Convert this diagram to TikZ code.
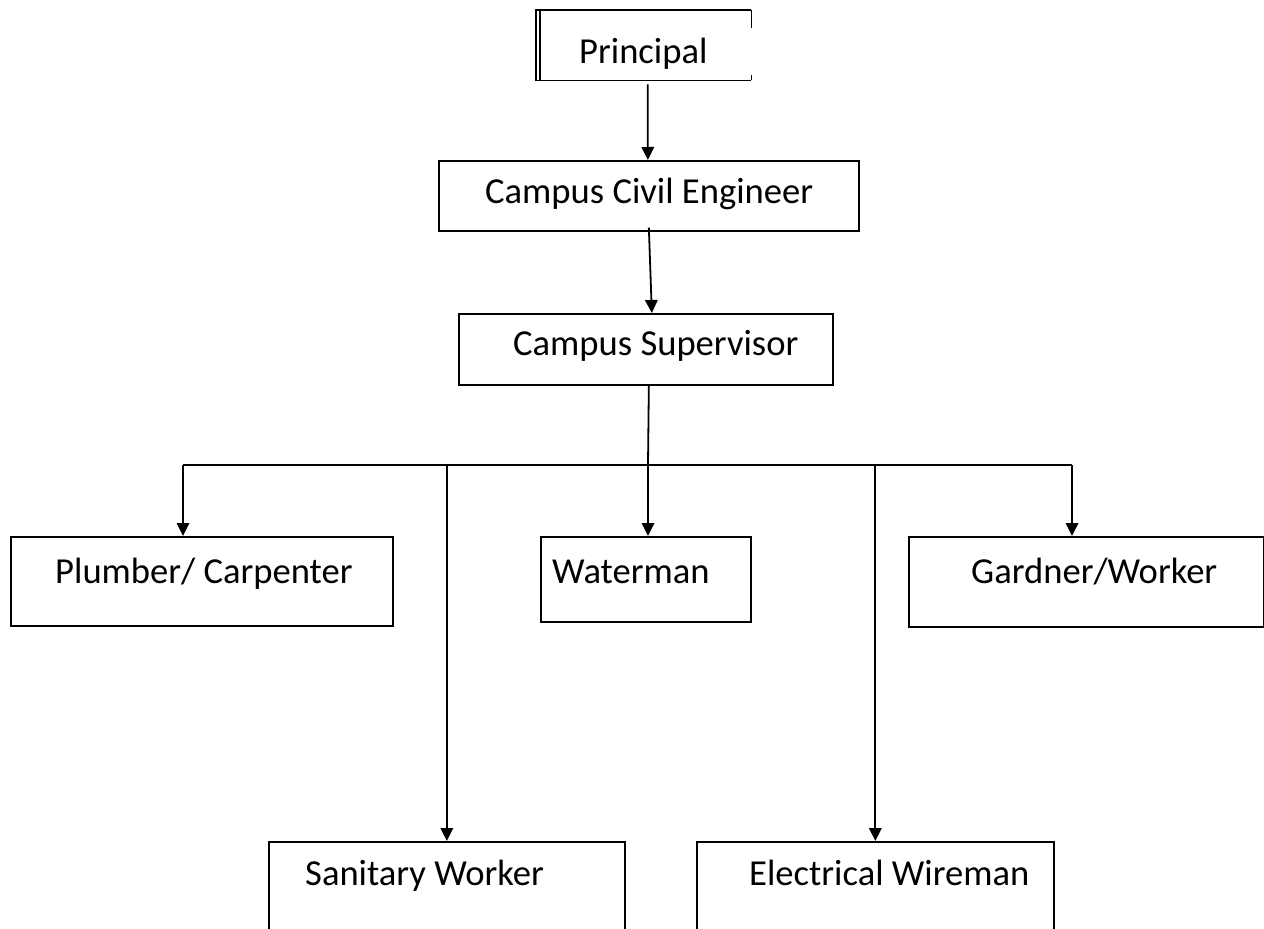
\documentclass[tikz,border=0pt]{standalone}
\usepackage{fontspec}
\setmainfont{Carlito}
\usetikzlibrary{arrows.meta}
\tikzset{
  orgbox/.style={draw, line width=1.7pt, inner sep=0pt, anchor=north west},
  lbl/.style={anchor=base west, inner sep=0pt, font=\fontsize{36.6}{42}\selectfont},
  arr/.style={line width=1.8pt, -{Triangle[width=12.5pt,length=13pt]}},
  wire/.style={line width=1.8pt}
}
\begin{document}
\begin{tikzpicture}[x=1pt,y=-1pt]
\useasboundingbox (0,0) rectangle (1264,929);
\clip (0,0) rectangle (1264,929);
% Principal box (partially drawn right edge, double left edge)
\node[inner sep=0pt, minimum width=215pt, minimum height=70pt, anchor=north west] (P) at (536,10) {};
\draw[line width=1.7pt] (P.north east) -- (P.north west) -- (P.south west) -- (P.south east);
\draw[line width=1.2pt] ([xshift=4pt]P.north west) -- ([xshift=4pt]P.south west);
\draw[line width=1.7pt] (P.north east) -- ([yshift=-18pt]P.north east);
\draw[line width=1.7pt] (P.south east) -- ([yshift=5pt]P.south east);
\node[lbl] (tP) at (579,63) {Principal};
% Campus Civil Engineer
\node[orgbox, minimum width=420pt, minimum height=70pt] (CCE) at (438,160) {};
\node[lbl] (tCCE) at (485,203) {Campus Civil Engineer};
% Campus Supervisor
\node[orgbox, minimum width=374pt, minimum height=71pt] (CS) at (458,313) {};
\node[lbl] (tCS) at (513,355) {Campus Supervisor};
% Level 3
\node[orgbox, minimum width=382pt, minimum height=89pt] (PC) at (10,536) {};
\node[lbl] (tPC) at (55,583) {Plumber/ Carpenter};
\node[orgbox, minimum width=210pt, minimum height=85pt] (W) at (540,536) {};
\node[lbl] (tW) at (552,583) {Waterman};
\node[orgbox, minimum width=355pt, minimum height=90pt] (G) at (908,536) {};
\node[lbl] (tG) at (971,583) {Gardner/Worker};
% Level 4
\node[orgbox, minimum width=356pt, minimum height=100pt] (SW) at (268,841) {};
\node[lbl] (tSW) at (305,885) {Sanitary Worker};
\node[orgbox, minimum width=357pt, minimum height=100pt] (EW) at (696,841) {};
\node[lbl] (tEW) at (749,885) {Electrical Wireman};
% connectors
\coordinate (bar) at (648,465);
\coordinate (barL) at (183,465);
\coordinate (barR) at (1072,465);
\draw[arr] ([xshift=4pt,yshift=-4pt]P.south) -- ([xshift=-1pt]CCE.north);
\draw[arr] ([yshift=4pt]CCE.south) -- ([xshift=6pt]CS.north);
\draw[wire] ([xshift=3pt]CS.south) -- (bar);
\draw[wire] (barL) -- (barR);
\draw[arr] (barL) -- (barL |- PC.north);
\draw[arr] (bar) -- (bar |- W.north);
\draw[arr] (barR) -- (barR |- G.north);
\draw[arr] (bar -| SW.north) -- (SW.north);
\draw[arr] (bar -| EW.north) -- (EW.north);
\end{tikzpicture}
\end{document}
